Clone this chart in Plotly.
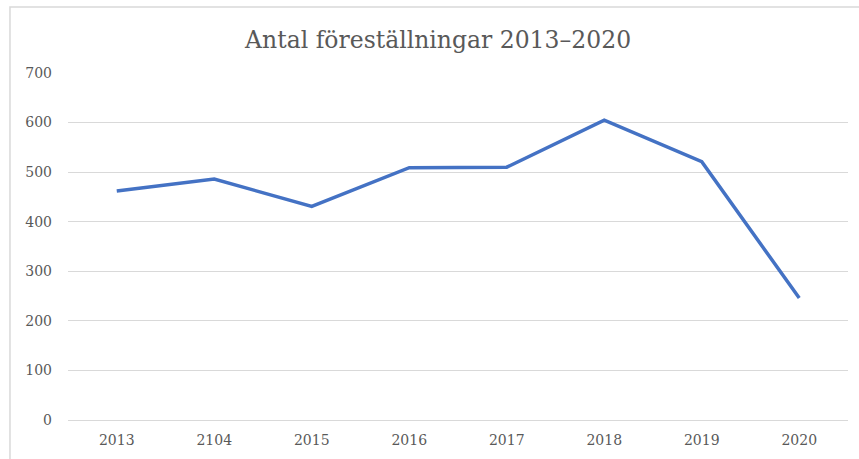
import plotly.graph_objects as go

# data
years = ["2013", "2104", "2015", "2016", "2017", "2018", "2019", "2020"]
performances = [462, 486, 431, 509, 510, 605, 521, 246]
y_ticks = [0, 100, 200, 300, 400, 500, 600, 700]

TEXT_COLOR = "#595959"
GRID_COLOR = "#d9d9d9"
FONT = "Georgia, 'DejaVu Serif', serif"

fig = go.Figure(
    go.Scatter(
        x=years,
        y=performances,
        mode="lines",
        line=dict(color="#4472C4", width=3.5),
        hoverinfo="x+y",
    )
)

fig.update_layout(
    width=859,
    height=459,
    title=dict(
        text="Antal föreställningar 2013–2020",
        x=0.51,
        xanchor="center",
        y=0.913,
        yanchor="middle",
        font=dict(family=FONT, size=23.5, color=TEXT_COLOR),
    ),
    font=dict(family=FONT, size=14, color=TEXT_COLOR),
    paper_bgcolor="white",
    plot_bgcolor="white",
    margin=dict(l=68, r=11, t=73, b=37),
    showlegend=False,
)

fig.update_xaxes(
    type="category",
    range=[-0.5, len(years) - 0.5],
    showgrid=False,
    showline=False,
    ticks="",
    ticklabelstandoff=10,
    tickfont=dict(family=FONT, size=14, color=TEXT_COLOR),
)
fig.update_yaxes(
    range=[0, 700],
    tickvals=y_ticks,
    showgrid=True,
    gridcolor=GRID_COLOR,
    gridwidth=1,
    zeroline=True,
    zerolinecolor=GRID_COLOR,
    zerolinewidth=1,
    showline=False,
    ticks="",
    ticklabelstandoff=15,
    tickfont=dict(family=FONT, size=14, color=TEXT_COLOR),
)

# chart-area border (top and left edges visible in the reference)
fig.add_shape(
    type="rect",
    xref="paper",
    yref="paper",
    x0=-0.0744,
    x1=1.05,
    y0=-0.2,
    y1=1.19,
    line=dict(color=GRID_COLOR, width=1.5),
    layer="below",
)

# drop the browser's default page margin so the figure sits at the window origin
fig.write_html(
    "out.html",
    config={"displayModeBar": False},
    post_script="document.body.style.margin='0';",
)
